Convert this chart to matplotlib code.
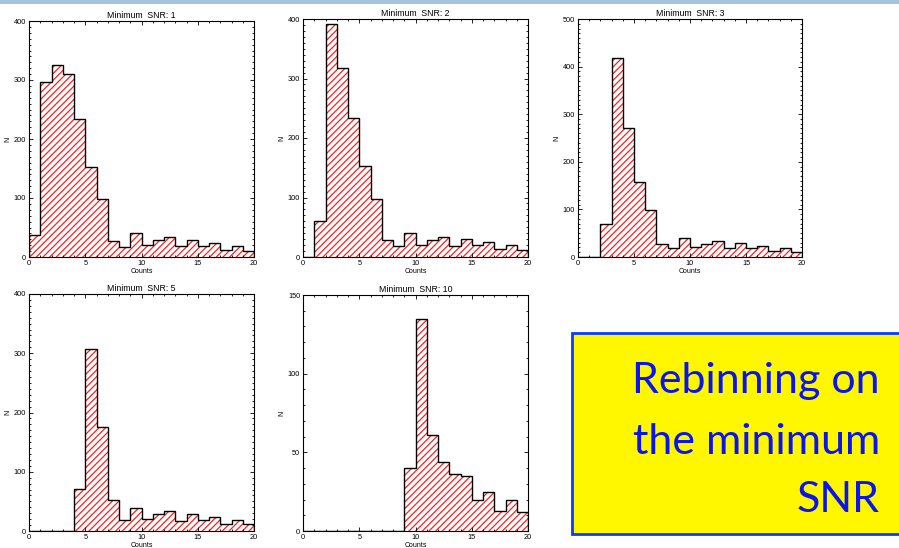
import numpy as np
import matplotlib
matplotlib.use('Agg')
import matplotlib.pyplot as plt
from matplotlib.patches import Rectangle
from matplotlib.ticker import MultipleLocator

plt.rcParams['font.family'] = ['Liberation Sans', 'DejaVu Sans']
plt.rcParams['hatch.linewidth'] = 0.9

# histogram bins: unit-wide bins from 0 to 20 counts
edges = np.arange(0, 21)

snr_levels = [1, 2, 3, 5, 10]
n_snr1 = [37, 296, 326, 311, 234, 152, 98, 27, 17, 40, 20, 28, 34, 18, 29, 19, 24, 12, 18, 11]
n_snr2 = [0, 61, 392, 318, 234, 153, 98, 28, 18, 40, 21, 29, 34, 19, 30, 20, 25, 13, 20, 12]
n_snr3 = [0, 0, 70, 419, 270, 157, 98, 27, 18, 40, 21, 28, 34, 18, 29, 19, 24, 13, 19, 11]
n_snr5 = [0, 0, 0, 0, 71, 307, 176, 52, 19, 39, 20, 28, 34, 17, 29, 19, 24, 12, 19, 11]
n_snr10 = [0, 0, 0, 0, 0, 0, 0, 0, 0, 40, 135, 61, 44, 36, 35, 20, 25, 13, 20, 12]
counts = [n_snr1, n_snr2, n_snr3, n_snr5, n_snr10]
ymax = [400, 400, 500, 400, 150]
ystep = [100, 100, 100, 100, 50]

note_lines = ['Rebinning on', 'the minimum', 'SNR']

W, H = 899, 548
fig = plt.figure(figsize=(W / 100, H / 100), dpi=100)

def px_axes(x0, y0, x1, y1):
    # pixel box (top-left origin) -> figure fraction
    return fig.add_axes([x0 / W, 1 - y1 / H, (x1 - x0) / W, (y1 - y0) / H])

boxes = [(29, 21, 254, 257), (303, 19, 528, 257), (578, 19, 802, 257),
         (29, 294, 254, 531), (303, 295, 528, 531)]

for box, snr, n, top, step in zip(boxes, snr_levels, counts, ymax, ystep):
    ax = px_axes(*box)
    ax.stairs(n, edges, fill=True, facecolor='none', edgecolor='#ff1e1e',
              linewidth=0, hatch='/////')
    ax.stairs(n, edges, color='black', linewidth=1.0)
    ax.set_xlim(0, 20)
    ax.set_ylim(0, top)
    ax.xaxis.set_major_locator(MultipleLocator(5))
    ax.xaxis.set_minor_locator(MultipleLocator(1))
    ax.yaxis.set_major_locator(MultipleLocator(step))
    ax.yaxis.set_minor_locator(MultipleLocator(10))
    ax.tick_params(which='both', direction='in', top=True, right=True,
                   width=0.6, labelsize=5.3, pad=2)
    ax.tick_params(which='major', length=3.2)
    ax.tick_params(which='minor', length=1.6)
    for s in ax.spines.values():
        s.set_linewidth(0.8)
    ax.set_title(f'Minimum  SNR: {snr}', fontsize=6.3, pad=2)
    ax.set_xlabel('Counts', fontsize=5, labelpad=1)
    ax.set_ylabel('N', fontsize=5, labelpad=2)

# light blue band along the top edge
fig.patches.append(Rectangle((0, 1 - 4 / H), 1, 4 / H, transform=fig.transFigure,
                             facecolor='#a8c4dc', edgecolor='none'))

# yellow note box
fig.patches.append(Rectangle((572 / W, 1 - 534 / H), (W + 10 - 572) / W, (534 - 333) / H,
                             transform=fig.transFigure, facecolor='#fff700',
                             edgecolor='#0a3cff', linewidth=2, clip_on=False))
for line, base in zip(note_lines, [393, 454, 512]):
    fig.text(880 / W, 1 - base / H, line, ha='right', va='baseline',
             fontsize=31, color='#0a14f0', family=['Lato', 'DejaVu Sans'])

fig.savefig('out.png', dpi=100)
